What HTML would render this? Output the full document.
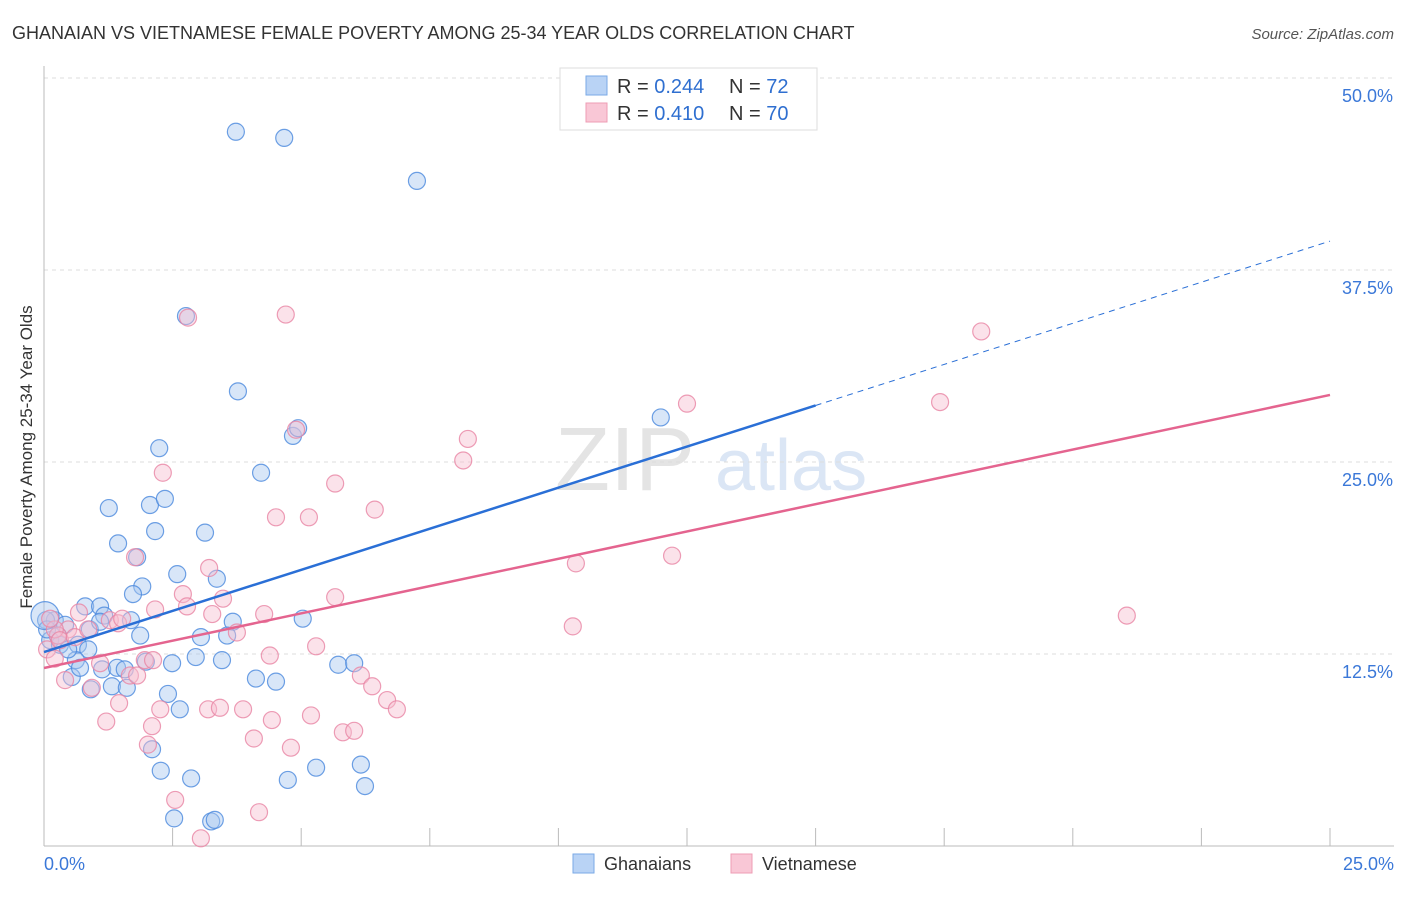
<!DOCTYPE html>
<html><head><meta charset="utf-8"><style>
body{margin:0;background:#fff;font-family:"Liberation Sans",sans-serif}
svg text{font-family:"Liberation Sans",sans-serif}
</style></head><body>
<svg id="c" width="1406" height="892" xmlns="http://www.w3.org/2000/svg">
<text x="12" y="39" font-size="18" fill="#333">GHANAIAN VS VIETNAMESE FEMALE POVERTY AMONG 25-34 YEAR OLDS CORRELATION CHART</text>
<text x="1394" y="39" font-size="15" fill="#555" font-style="italic" text-anchor="end">Source: ZipAtlas.com</text>
<text x="32" y="457" font-size="17" fill="#333" text-anchor="middle" transform="rotate(-90 32 457)">Female Poverty Among 25-34 Year Olds</text>
<g><text x="555" y="490" font-size="90" fill="#e4e4e4" font-family="Liberation Serif">ZIP</text><text x="715" y="490" font-size="72" fill="#dbe6f5">atlas</text></g>
<g id="grid"></g><g id="marks"></g><g id="lines"></g>
<g>
<rect x="560" y="68" width="257" height="62" fill="#fff" stroke="#ddd"/>
<rect x="586" y="76" width="21" height="19" fill="#b9d3f5" stroke="#7aa9e6"/>
<rect x="586" y="103" width="21" height="19" fill="#f9c7d6" stroke="#ee9cb4"/>
<text x="617" y="93" font-size="20" fill="#333">R = <tspan fill="#2f6fd0">0.244</tspan><tspan x="729">N = </tspan><tspan fill="#2f6fd0">72</tspan></text>
<text x="617" y="120" font-size="20" fill="#333">R = <tspan fill="#2f6fd0"> 0.410</tspan><tspan x="729">N = </tspan><tspan fill="#2f6fd0">70</tspan></text>
</g>
<g>
<rect x="573" y="854" width="21" height="19" fill="#b9d3f5" stroke="#7aa9e6"/>
<text x="604" y="870" font-size="18" fill="#333">Ghanaians</text>
<rect x="731" y="854" width="21" height="19" fill="#f9c7d6" stroke="#ee9cb4"/>
<text x="762" y="870" font-size="18" fill="#333">Vietnamese</text>
</g>
</svg>
<script>
const yTicks=[12.5,25,37.5,50];
const yTickLabels=["12.5%","25.0%","37.5%","50.0%"];
const xTicks=[0,2.5,5,7.5,10,12.5,15,17.5,20,22.5,25];
const blueX=[3.73,4.67,7.25,2.76,3.77,11.99,4.84,4.94,2.24,4.22,1.26,2.06,2.35,2.16,3.13,1.44,1.81,2.59,3.36,1.91,1.73,0.80,1.09,1.69,1.17,3.67,5.03,1.87,3.05,3.56,0.21,0.41,0.89,0.12,0.31,0.66,0.86,0.62,0.54,0.70,1.13,1.42,1.57,1.98,2.49,2.95,3.46,5.72,6.03,1.32,1.61,4.12,4.51,0.91,2.41,2.64,2.10,2.27,2.86,4.74,5.29,6.16,6.24,2.53,3.25,3.32,0.04,0.06,0.27,0.47,1.09,0.02];
const blueY=[46.5,46.1,43.3,34.5,29.6,27.9,26.7,27.2,25.9,24.3,22.0,22.2,22.6,20.5,20.4,19.7,18.8,17.7,17.4,16.9,16.4,15.6,15.6,14.7,15.0,14.6,14.8,13.7,13.6,13.7,14.7,14.4,14.1,13.4,13.1,13.1,12.8,12.1,11.0,11.6,11.5,11.6,11.5,12.0,11.9,12.3,12.1,11.8,11.9,10.4,10.3,10.9,10.7,10.2,9.9,8.9,6.3,4.9,4.4,4.3,5.1,5.3,3.9,1.8,1.6,1.7,14.7,14.1,13.7,12.8,14.6,15.0];
const pinkX=[2.80,4.70,18.22,17.42,12.50,8.24,8.15,4.90,2.31,5.66,6.43,4.51,5.15,12.21,10.34,1.77,3.21,2.70,3.48,2.16,2.78,3.27,4.28,0.68,1.28,1.44,1.52,3.75,10.28,21.05,5.29,0.47,0.27,0.06,0.21,1.09,4.39,1.96,1.67,1.81,6.16,6.38,6.67,6.86,0.41,0.93,1.46,2.26,3.19,3.42,3.87,4.43,5.19,1.21,2.10,5.81,6.03,2.02,4.08,4.80,2.55,4.18,3.05,0.21,0.31,0.60,0.86,5.66,2.12,0.12];
const pinkY=[34.4,34.6,33.5,28.9,28.8,26.5,25.1,27.1,24.3,23.6,21.9,21.4,21.4,18.9,18.4,18.8,18.1,16.4,16.1,15.4,15.6,15.1,15.1,15.2,14.7,14.5,14.8,13.9,14.3,15.0,13.0,14.1,13.7,12.8,12.2,11.9,12.4,12.1,11.1,11.1,11.1,10.4,9.5,8.9,10.8,10.3,9.3,8.9,8.9,9.0,8.9,8.2,8.5,8.1,7.8,7.4,7.5,6.6,7.0,6.4,3.0,2.2,0.5,14.1,13.4,13.6,14.1,16.2,12.1,14.8];
const blueFit=[12.63,1.07]; // intercept, slope per % x
const pinkFit=[11.59,0.711];
const X=v=>44+v*51.44, Y=v=>846-v*15.36;
const NS="http://www.w3.org/2000/svg";
function mk(p,t,a){const e=document.createElementNS(NS,t);for(const k in a)e.setAttribute(k,a[k]);p.appendChild(e);return e;}
const grid=document.getElementById('grid'),marks=document.getElementById('marks'),lines=document.getElementById('lines');
yTicks.forEach((v,i)=>{
 const g=mk(grid,'line',{x1:44,x2:1394,y1:Y(v),y2:Y(v),stroke:'#ddd','stroke-dasharray':'4 4'});
 
 
 const t=mk(grid,'text',{x:1393,y:Y(v)+24,'font-size':18,fill:'#3b78d8','text-anchor':'end'});
 t.textContent=yTickLabels[i];
 
 
});
const ax=mk(grid,'line',{x1:44,x2:1394,y1:846,y2:846,stroke:'#bbb'});


const ay=mk(grid,'line',{x1:44,x2:44,y1:66,y2:846,stroke:'#bbb'});


xTicks.forEach(v=>{const l=mk(grid,'line',{x1:X(v),x2:X(v),y1:828,y2:846,stroke:'#bbb'});
 
 });
let t0=mk(grid,'text',{x:44,y:870,'font-size':18,fill:'#3b78d8'});t0.textContent='0.0%';


let t1=mk(grid,'text',{x:1394,y:870,'font-size':18,fill:'#3b78d8','text-anchor':'end'});t1.textContent='25.0%';


function pts(xs,ys,fill,stroke,name){xs.forEach((x,i)=>{
 const r=(i===xs.length-1&&name==='ghanaian-point')?14:8.5;
 const c=mk(marks,'circle',{cx:X(x),cy:Y(ys[i]),r:r,fill:fill,'fill-opacity':0.45,stroke:stroke,'stroke-width':1.2,'stroke-opacity':0.8});
 
 });}
pts(blueX,blueY,'#a9c8f0','#4a88dd','ghanaian-point');
pts(pinkX,pinkY,'#f7bfd0','#e884a4','vietnamese-point');
const bf=v=>blueFit[0]+blueFit[1]*v, pf=v=>pinkFit[0]+pinkFit[1]*v;
const l1=mk(lines,'line',{x1:X(0),y1:Y(bf(0)),x2:X(15),y2:Y(bf(15)),stroke:'#2a6fd6','stroke-width':2.5});


const l2=mk(lines,'line',{x1:X(15),y1:Y(bf(15)),x2:X(25),y2:Y(bf(25)),stroke:'#2a6fd6','stroke-width':1,'stroke-dasharray':'6 5'});


const l3=mk(lines,'line',{x1:X(0),y1:Y(pf(0)),x2:X(25),y2:Y(pf(25)),stroke:'#e4648f','stroke-width':2.5});


</script>
</body></html>
